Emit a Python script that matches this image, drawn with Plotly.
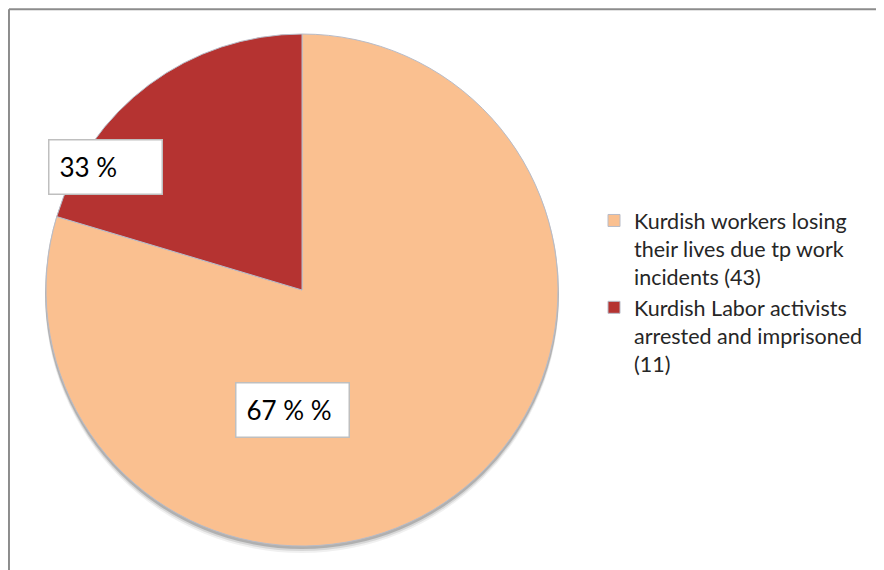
import plotly.graph_objects as go

categories = [
    "Kurdish workers losing<br>their lives due tp work<br>incidents (43)",
    "Kurdish Labor activists<br>arrested and imprisoned<br>(11)",
]
values = [43, 11]
slice_labels = ["67 % %", "33 %"]
colors = ["#FAC090", "#B53331"]

W, H = 884, 570
OFF = 8  # page body margin offset


def px(x):
    return (x - OFF) / W


def py(y):
    return 1 - (y - OFF) / H


fig = go.Figure()
fig.add_trace(go.Pie(
    labels=categories,
    values=values,
    sort=False,
    direction="clockwise",
    rotation=0,
    textinfo="none",
    hoverinfo="label+value+percent",
    marker=dict(colors=colors, line=dict(color="#B8BCC8", width=1)),
    domain=dict(x=[px(46), px(558)], y=[py(547), py(33)]),
    showlegend=True,
))

# soft shadow under the pie
cx, cy, r = 302, 291, 256
for dy, op in [(6, 0.06), (4, 0.10), (2, 0.18)]:
    fig.add_shape(type="circle", xref="paper", yref="paper", layer="below",
                  x0=px(cx - r - 1), x1=px(cx + r + 1),
                  y0=py(cy + r + dy), y1=py(cy - r + dy - 2),
                  fillcolor=f"rgba(0,0,0,{op})", line=dict(width=0))

# value label boxes
label_pos = [(292, 410), (105, 167)]
for txt, (lx, ly) in zip(slice_labels, label_pos):
    fig.add_annotation(
        x=px(lx), y=py(ly), xref="paper", yref="paper",
        xanchor="center", yanchor="middle",
        text=txt, showarrow=False,
        font=dict(family="Lato, Open Sans, sans-serif", size=26, color="#000000"),
        bgcolor="#FFFFFF", bordercolor="#BFBFBF", borderwidth=1.5,
        borderpad=10, width=92, height=33, align="left",
    )

# chart frame (top and left edges visible)
fig.add_shape(type="line", xref="paper", yref="paper",
              x0=0.0011, x1=1.01, y0=0.998, y1=0.998,
              line=dict(color="#8C8C8C", width=2))
fig.add_shape(type="line", xref="paper", yref="paper",
              x0=0.0011, x1=0.0011, y0=0.998, y1=-0.01,
              line=dict(color="#8C8C8C", width=2))

fig.update_layout(
    width=W, height=H,
    margin=dict(l=0, r=0, t=0, b=0),
    paper_bgcolor="#FFFFFF",
    plot_bgcolor="#FFFFFF",
    legend=dict(
        x=px(594), y=py(200), xanchor="left", yanchor="top",
        valign="top",
        font=dict(family="Lato, Open Sans, sans-serif", size=21.5, color="#262626"),
        itemwidth=30,
        bgcolor="rgba(0,0,0,0)",
    ),
)

fig.write_html("out.html")
